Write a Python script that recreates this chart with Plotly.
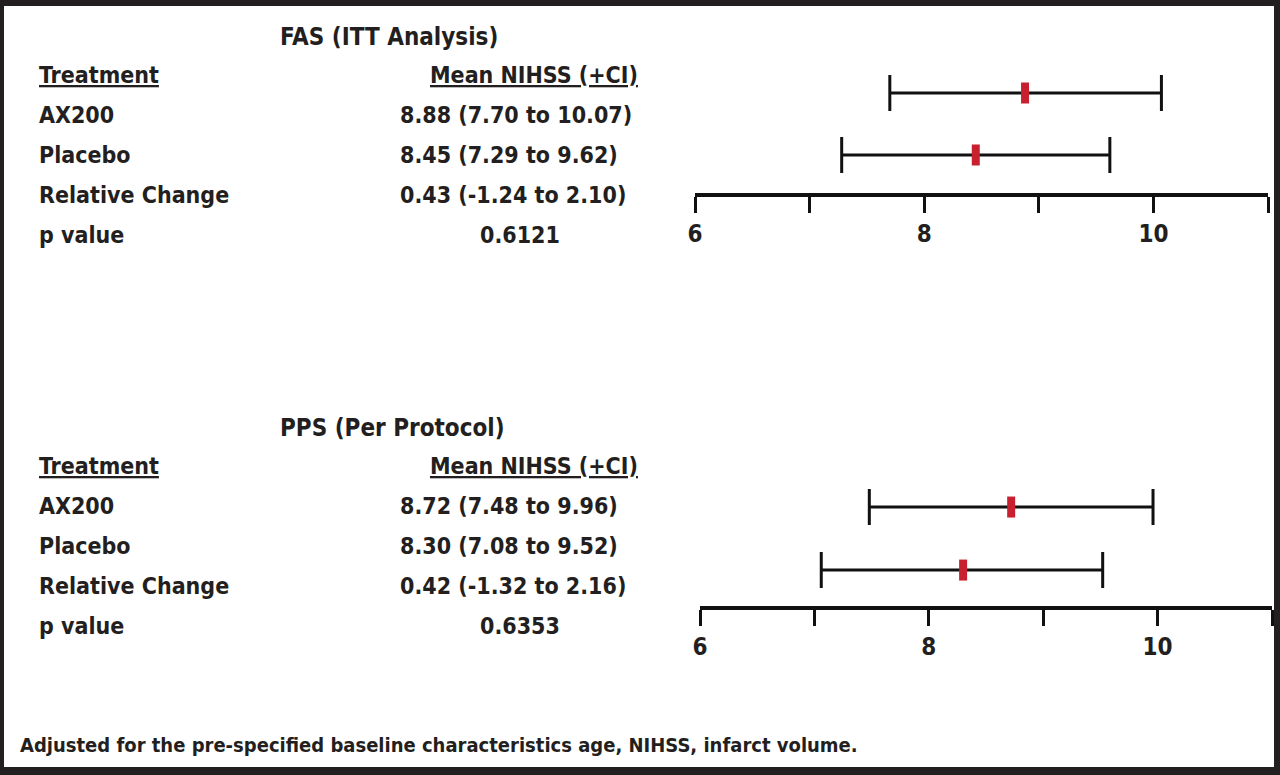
import plotly.graph_objects as go

W, H = 1280, 775

# ---- data ----
row_labels = ["AX200", "Placebo", "Relative Change", "p value"]
fas_title = "FAS (ITT Analysis)"
pps_title = "PPS (Per Protocol)"
col_header_left = "Treatment"
col_header_right = "Mean NIHSS (+CI)"
fas_values = ["8.88 (7.70 to 10.07)", "8.45 (7.29 to 9.62)", "0.43 (-1.24 to 2.10)", "0.6121"]
pps_values = ["8.72 (7.48 to 9.96)", "8.30 (7.08 to 9.52)", "0.42 (-1.32 to 2.16)", "0.6353"]

plot_groups = ["AX200", "Placebo"]
plot_rows = [2, 1]
fas_mean = [8.88, 8.45]
fas_lo = [7.70, 7.28]
fas_hi = [10.07, 9.62]
pps_mean = [8.72, 8.30]
pps_lo = [7.48, 7.06]
pps_hi = [9.96, 9.52]

tick_vals = [6, 7, 8, 9, 10, 11]
tick_text = ["6", "", "8", "", "10", ""]
footnote = "Adjusted for the pre-specified baseline characteristics age, NIHSS, infarct volume."

FONT = "DejaVu Sans Condensed, Liberation Sans Narrow, Arial Narrow, sans-serif"
TXT = "#231f20"
RED = "#c8202f"


def px(x):
    return x / W


def py(y):
    return 1 - y / H


fig = go.Figure()


def add_forest(mean, lo, hi, xa, ya):
    fig.add_trace(go.Scatter(
        x=mean, y=plot_rows, xaxis=xa, yaxis=ya, mode="markers",
        text=plot_groups,
        marker=dict(symbol="line-ns", size=15, color=RED, line=dict(color=RED, width=8)),
        error_x=dict(type="data", symmetric=False,
                     array=[h - m for h, m in zip(hi, mean)],
                     arrayminus=[m - l for m, l in zip(mean, lo)],
                     color="#111111", thickness=3, width=18),
        showlegend=False, hoverinfo="x+text",
    ))


add_forest(fas_mean, fas_lo, fas_hi, "x", "y")
add_forest(pps_mean, pps_lo, pps_hi, "x2", "y2")

xcommon = dict(range=[6, 11], tickvals=tick_vals, ticktext=tick_text, showline=True,
               linecolor="#111111", linewidth=4, ticks="outside", ticklen=16, tickwidth=3,
               tickcolor="#111111", showgrid=False, zeroline=False, automargin=False,
               tickfont=dict(family=FONT, size=24, color=TXT, weight="bold"))
ycommon = dict(visible=False, automargin=False, showgrid=False, zeroline=False)

fig.update_layout(
    width=W, height=H, margin=dict(l=0, r=0, t=0, b=0, pad=0, autoexpand=False),
    paper_bgcolor="#231f20", plot_bgcolor="rgba(0,0,0,0)",
    xaxis=dict(domain=[px(695), px(1268)], anchor="y", **xcommon),
    yaxis=dict(domain=[py(193), py(60)], range=[0.387, 2.532], **ycommon),
    xaxis2=dict(domain=[px(700), px(1272)], anchor="y2", **xcommon),
    yaxis2=dict(domain=[py(606), py(473)], range=[0.43, 2.54], **ycommon),
    shapes=[dict(type="rect", xref="paper", yref="paper", x0=px(4), x1=px(1274),
                 y0=py(767), y1=py(6), fillcolor="white", line=dict(width=0), layer="below")],
)


def add_text(text, x, y, size=23, anchor="left"):
    fig.add_annotation(text=text, x=px(x), y=py(y), xref="paper", yref="paper",
                       xanchor=anchor, yanchor="middle", showarrow=False,
                       font=dict(family=FONT, size=size, color=TXT))


def add_block(title, values, y0):
    add_text("<b>%s</b>" % title, 278, y0, size=24)
    add_text("<b><u>%s</u></b>" % col_header_left, 37, y0 + 38)
    add_text("<b><u>%s</u></b>" % col_header_right, 428, y0 + 38)
    for i, (lab, val) in enumerate(zip(row_labels, values)):
        yy = y0 + 78 + 40 * i
        add_text("<b>%s</b>" % lab, 37, yy)
        if i < 3:
            add_text("<b>%s</b>" % val, 398, yy)
        else:
            add_text("<b>%s</b>" % val, 520, yy, anchor="center")


add_block(fas_title, fas_values, 37)
add_block(pps_title, pps_values, 428)
add_text("<b>%s</b>" % footnote, 18, 745, size=20)

fig.write_html("out.html", config={"displayModeBar": False},
               post_script="document.body.style.margin='0';")
